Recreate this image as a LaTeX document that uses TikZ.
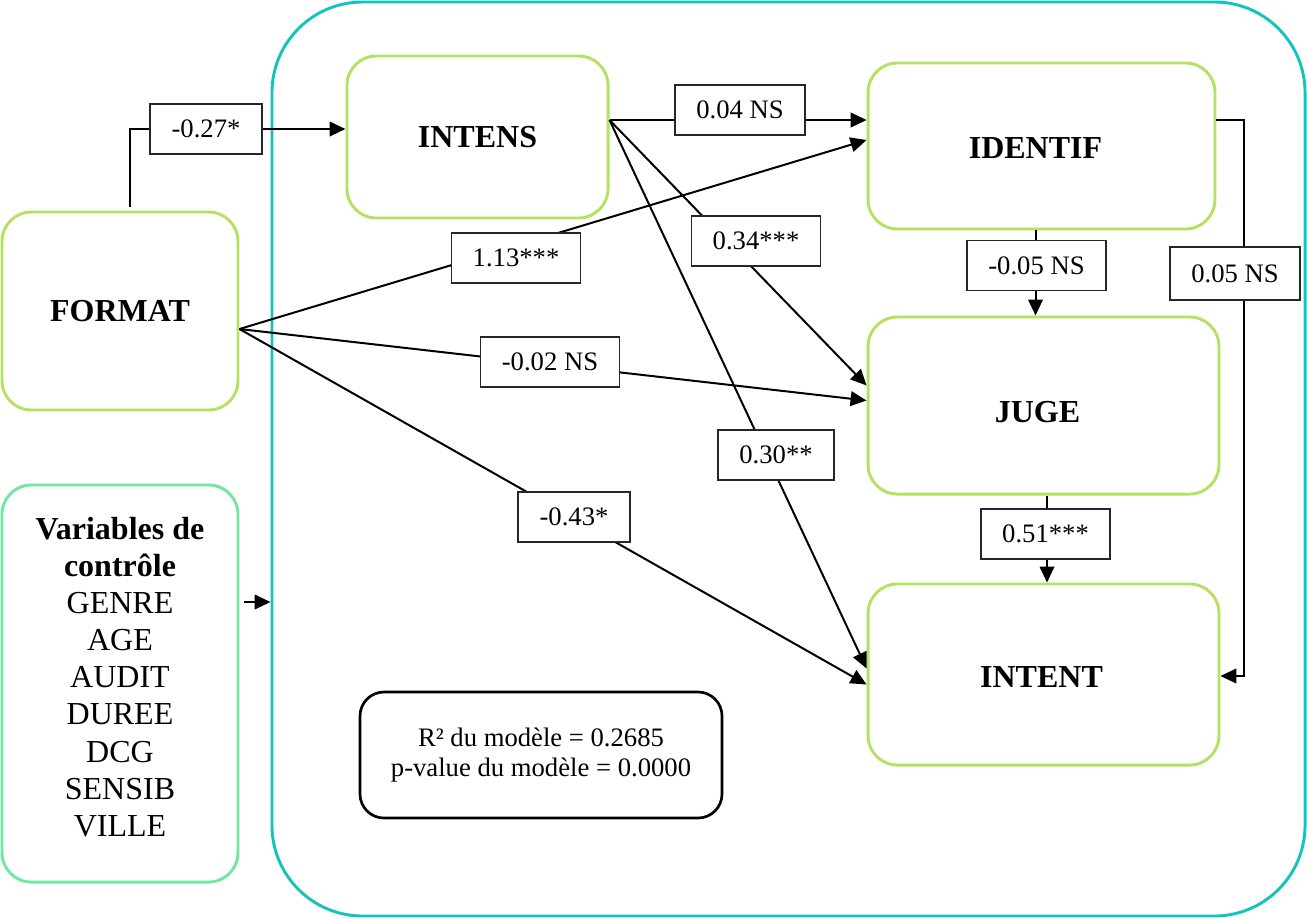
\documentclass[tikz,border=0pt]{standalone}
\usepackage{fontspec}
\setmainfont{Liberation Serif}
\usepackage{tikz}
\usetikzlibrary{calc,arrows.meta}

\definecolor{boxgreen}{RGB}{180,226,96}
\definecolor{ctrlgreen}{RGB}{112,232,160}
\definecolor{modelteal}{RGB}{20,196,186}

\begin{document}
\begin{tikzpicture}[
  x=0.375pt,y=-0.375pt,
  >={Triangle[length=6pt,width=5.5pt]},
  varbox/.style={rectangle,rounded corners=11pt,draw=boxgreen,line width=1.1pt,align=center,font=\fontsize{12}{14}\selectfont\bfseries},
  vartext/.style={font=\fontsize{12}{14}\selectfont\bfseries},
  coef/.style={rectangle,draw=black!85,fill=white,line width=0.6pt,inner xsep=8pt,minimum height=18.75pt,font=\fontsize{10}{12}\selectfont},
  link/.style={->,line width=0.75pt}
]
\useasboundingbox (0,0) rectangle (1307,919);

% model frame
\node[rectangle,rounded corners=34pt,draw=modelteal,line width=1.1pt,minimum width=387.4pt,minimum height=342.75pt] (model) at (788.5,459) {};

\node[varbox,minimum width=88.5pt,minimum height=74.25pt] (format) at (120,311) {FORMAT};
\node[varbox,draw=ctrlgreen,minimum width=88.5pt,minimum height=148.9pt] (ctrl) at (120,683.5) {};
\node[align=center,font=\fontsize{12}{13.9}\selectfont] (ctrltext) at (120,677)
  {\textbf{Variables de}\\\textbf{contrôle}\\GENRE\\AGE\\AUDIT\\DUREE\\DCG\\SENSIB\\VILLE};
\node[varbox,minimum width=97.9pt,minimum height=60.75pt] (intens) at (477.5,137) {INTENS};
\node[varbox,minimum width=130.1pt,minimum height=62.25pt] (identif) at (1041.5,146) {};
\node[varbox,minimum width=131.6pt,minimum height=66.4pt] (juge) at (1043.5,405.5) {};
\node[varbox,minimum width=131.6pt,minimum height=67.9pt] (intent) at (1043.5,674.5) {};
\node[vartext] (identiftext) at ($(identif)+(-6,2)$) {IDENTIF};
\node[vartext] (jugetext) at ($(juge)+(-6,7)$) {JUGE};
\node[vartext] (intenttext) at ($(intent)+(-2,3)$) {INTENT};

\node[rectangle,rounded corners=9pt,draw=black,line width=1pt,minimum width=135.75pt,minimum height=47.25pt,align=center,font=\fontsize{10}{11.25}\selectfont] (fit) at (541,755)
  {R² du modèle = 0.2685\\p-value du modèle = 0.0000};

% start points
\coordinate (fo) at ($(format.east)+(0,18)$);
\coordinate (io) at ($(intens.east)+(0,-17)$);

\draw[link] ($(format.north)+(10,-4)$) |- ($(intens.west)+(0,-8)$);
\draw[link] (io) -- (io -| identif.west);
\draw[link] (fo) -- ($(identif.west)+(0,-6)$);
\draw[link] (io) -- ($(juge.west)+(0,-20)$);
\draw[link] (fo) -- ($(juge.west)+(0,-5)$);
\draw[link] (io) -- ($(intent.west)+(0,-6)$);
\draw[link] (fo) -- ($(intent.west)+(0,10)$);
\draw[link] ($(identif.south)+(-6,0)$) coordinate (a) -- (a |- juge.north);
\draw[link] ($(juge.south)+(3.5,0)$) coordinate (b) -- (b |- intent.north);
\draw[link] ($(identif.east)+(0,-26)$) -- ++(28,0) |- ($(intent.east)+(0,1.5)$);
\draw[link] ($(ctrl.east)+(5,-81.5)$) coordinate (c) -- (c -| model.west);

% coefficients
\node[coef] (c27) at (206,129) {-0.27*};
\node[coef] (c04) at (740,110) {0.04 NS};
\node[coef] (c113) at (516,258) {1.13***};
\node[coef] (c34) at (756,241) {0.34***};
\node[coef] (c02) at (550,362) {-0.02 NS};
\node[coef] (c30) at (776,455) {0.30**};
\node[coef] (c43) at (574,517) {-0.43*};
\node[coef] (c05a) at (1036.5,265.5) {-0.05 NS};
\node[coef,minimum height=19.9pt] (c05b) at (1235,273.5) {0.05 NS};
\node[coef] (c51) at (1045.5,534) {0.51***};

\end{tikzpicture}
\end{document}
